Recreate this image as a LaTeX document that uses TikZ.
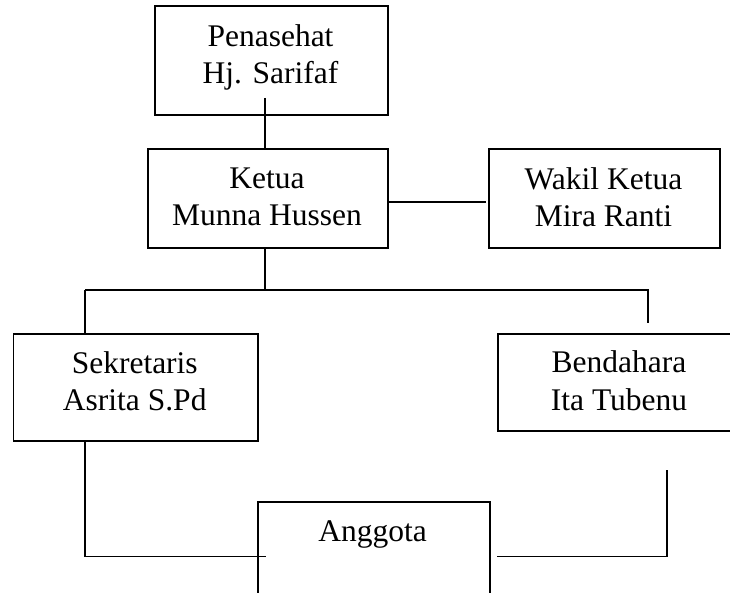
\documentclass[tikz,border=0pt]{standalone}
\usepackage{fontspec}
\setmainfont{Liberation Serif}
\begin{document}
\begin{tikzpicture}[x=1pt,y=-1pt,
  box/.style={draw, line width=1.6pt, anchor=north west, inner sep=0pt},
  txt/.style={anchor=base, inner sep=0pt, font=\fontsize{31.5}{36}\selectfont},
  line/.style={draw, line width=1.6pt}]
\useasboundingbox (0,0) rectangle (730,593);
\clip (0,0) rectangle (730,593);
% boxes
\node[box, minimum width=233pt, minimum height=109pt] (pen) at (154,5) {};
\node[box, minimum width=240pt, minimum height=99pt] (ketua) at (147,148) {};
\node[box, minimum width=231pt, minimum height=99pt] (wakil) at (488,148) {};
\node[box, minimum width=244.5pt, minimum height=107pt] (sek) at (12.5,333) {};
\node[box, minimum width=244pt, minimum height=97pt] (ben) at (497,333) {};
\node[box, minimum width=232pt, minimum height=200pt] (ang) at (257,501) {};
% texts
\node[txt] (pen1) at (270.5,47) {Penasehat};
\node[txt] (pen2) at (270.5,84) {Hj. Sarifaf};
\node[txt] (ket1) at (267,188.5) {Ketua};
\node[txt] (ket2) at (267,226) {Munna Hussen};
\node[txt] (wak1) at (603.5,189.5) {Wakil Ketua};
\node[txt] (wak2) at (603.5,226.5) {Mira Ranti};
\node[txt] (sek1) at (134.75,373) {Sekretaris};
\node[txt] (sek2) at (134.75,410) {Asrita S.Pd};
\node[txt] (ben1) at (619,372.5) {Bendahara};
\node[txt] (ben2) at (619,410.5) {Ita Tubenu};
\node[txt] (ang1) at (372.5,541.5) {Anggota};
% helper coordinates
\coordinate (c1) at (265,98);
\coordinate (kw) at (387,202);
\coordinate (j1) at (265,290);
\coordinate (bl) at (85,290);
\coordinate (br) at (648,290);
\coordinate (brend) at (648,323);
\coordinate (sl) at (266,556.5);
\coordinate (rs) at (497,556.5);
\coordinate (rc) at (667,556.5);
\coordinate (rtop) at (667,470);
% connectors
\draw[line] (c1) -- (ketua.north -| c1);
\draw[line] (ketua.east |- kw) -- ([xshift=-2pt]wakil.west |- kw);
\draw[line] (ketua.south -| j1) -- (j1);
\draw[line] (bl) -- (br) -- (brend);
\draw[line] (bl) -- (sek.north -| bl);
\draw[line] (sek.south -| bl) |- (sl);
\draw[line] (rs) -- (rc) -- (rtop);
\end{tikzpicture}
\end{document}
